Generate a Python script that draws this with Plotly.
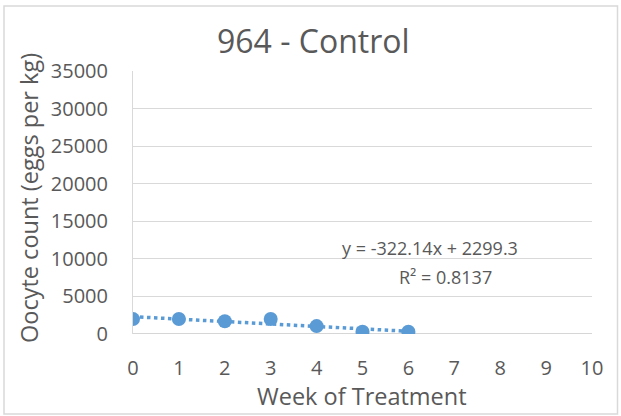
import numpy as np
import plotly.graph_objects as go

# ---- data ----
weeks = [0, 1, 2, 3, 4, 5, 6]
oocyte_counts = [1980, 2000, 1700, 2000, 1050, 300, 300]
x_ticks = list(range(0, 11))
y_ticks = [0, 5000, 10000, 15000, 20000, 25000, 30000, 35000]
title_text = "964 - Control"
x_title = "Week of Treatment"
y_title = "Oocyte count (eggs per kg)"
equation_text = "y = -322.14x + 2299.3"
r2_text = "R² = 0.8137"

# ---- layout geometry ----
W, H = 621, 416
L, R, T, B = 133, 29, 71, 82
pw, ph = W - L - R, H - T - B


def px(xp):
    return (xp - L) / pw


def py(yp):
    return (H - B - yp) / ph


text_col = "#595959"
font_fam = "Open Sans, Liberation Sans, Arial, sans-serif"
blue = "#5B9BD5"

slope, intercept = np.polyfit(weeks, oocyte_counts, 1)
trend_x = [min(weeks), max(weeks)]
trend_y = [slope * v + intercept for v in trend_x]

fig = go.Figure()
fig.add_trace(go.Scatter(
    x=trend_x, y=trend_y, mode="lines",
    line=dict(color=blue, width=3.5, dash="dot"),
    hoverinfo="skip", showlegend=False,
))
fig.add_trace(go.Scatter(
    x=weeks, y=oocyte_counts, mode="markers",
    marker=dict(color=blue, size=14, line=dict(width=0)),
    showlegend=False,
))

fig.update_layout(
    width=W, height=H,
    margin=dict(l=L, r=R, t=T, b=B),
    paper_bgcolor="white", plot_bgcolor="white",
    font=dict(family=font_fam, color=text_col, size=20),
    showlegend=False,
    xaxis=dict(
        range=[0, 10], tickvals=x_ticks, showgrid=False, zeroline=False,
        showline=False, ticks="", ticklabelstandoff=20,
        tickfont=dict(size=20, color=text_col),
    ),
    yaxis=dict(
        range=[0, 35000], tickvals=y_ticks, tickformat="d", showgrid=True,
        gridcolor="#D9D9D9", gridwidth=1, zeroline=False,
        showline=True, linecolor="#D9D9D9", linewidth=1,
        ticks="", ticklabelstandoff=20,
        tickfont=dict(size=20, color=text_col),
    ),
    shapes=[
        dict(type="line", xref="paper", yref="y", x0=0, x1=1, y0=0, y1=0,
             line=dict(color="#C8C8C8", width=1.5), layer="below"),
        dict(type="rect", xref="paper", yref="paper",
             x0=px(4), x1=px(617.5), y0=py(414), y1=py(6),
             line=dict(color="#D9D9D9", width=1.5)),
    ],
    annotations=[
        dict(text=title_text, xref="paper", yref="paper", x=px(313), y=py(41),
             xanchor="center", yanchor="middle", showarrow=False,
             font=dict(size=32, color=text_col)),
        dict(text=x_title, xref="paper", yref="paper", x=px(362), y=py(396),
             xanchor="center", yanchor="middle", showarrow=False,
             font=dict(size=23.5, color=text_col)),
        dict(text=y_title, xref="paper", yref="paper", x=px(29), y=py(198),
             xanchor="center", yanchor="middle", showarrow=False, textangle=-90,
             font=dict(size=23.5, color=text_col)),
        dict(text=equation_text, xref="paper", yref="paper", x=px(430), y=py(248),
             xanchor="center", yanchor="middle", showarrow=False,
             font=dict(size=18, color=text_col)),
        dict(text=r2_text, xref="paper", yref="paper", x=px(445), y=py(277),
             xanchor="center", yanchor="middle", showarrow=False,
             font=dict(size=18, color=text_col)),
    ],
)

fig.write_html("out.html", config={"displayModeBar": False},
               post_script="document.body.style.margin='0';")
